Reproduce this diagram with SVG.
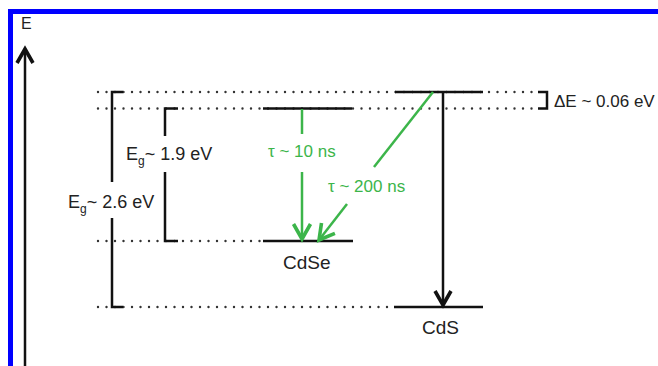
<svg xmlns="http://www.w3.org/2000/svg" width="658" height="366" viewBox="0 0 658 366">
<style>
text{font-family:"Liberation Sans",Arial,sans-serif;fill:#222}
.g{fill:#3cb54a}
.lvl{stroke:#111;stroke-width:2.5;fill:none}
.dot{stroke:#333;stroke-width:2.4;stroke-linecap:round;stroke-dasharray:0 8.5;fill:none}
.br{stroke:#111;stroke-width:2.5;fill:none}
.ga{stroke:#3cb54a;stroke-width:2.5;fill:none}
.ba{stroke:#111;stroke-width:2.5;fill:none}
</style>
<defs>
<marker id="hg" markerUnits="userSpaceOnUse" orient="auto" refX="0" refY="0" markerWidth="30" markerHeight="30" viewBox="-20 -15 30 30" overflow="visible">
<path d="M-15,-8.5 L0,0 L-15,8.5" fill="none" stroke="#3cb54a" stroke-width="3.6"/>
</marker>
<marker id="hb" markerUnits="userSpaceOnUse" orient="auto" refX="0" refY="0" markerWidth="30" markerHeight="30" viewBox="-20 -15 30 30" overflow="visible">
<path d="M-14,-8 L0,0 L-14,8" fill="none" stroke="#111" stroke-width="3.6"/>
</marker>
</defs>
<rect width="658" height="366" fill="#fff"/>
<rect x="10.5" y="11.5" width="660" height="380" fill="none" stroke="#0000ff" stroke-width="5"/>

<g id="axis">
<line x1="25" y1="366" x2="25" y2="49" class="ba" stroke-width="3" marker-end="url(#hb)"/>
<text x="21" y="29" font-size="16">E</text>
</g>

<g id="guides">
<line class="dot" x1="98" y1="92" x2="532" y2="92"/>
<line class="dot" x1="98" y1="108.5" x2="532" y2="108.5"/>
<line class="dot" x1="98" y1="241" x2="264" y2="241"/>
<line class="dot" x1="98" y1="307" x2="394" y2="307"/>
</g>

<g id="bracket-cds">
<path class="br" d="M123,92 H112 V182 M112,218 V307 H123"/>
<text x="68" y="208" font-size="18">E<tspan font-size="12" dy="5">g</tspan><tspan dy="-5">~ 2.6 eV</tspan></text>
</g>
<g id="bracket-cdse">
<path class="br" d="M178,108.5 H165 V136 M165,172 V241 H178"/>
<text x="126" y="160" font-size="18">E<tspan font-size="12" dy="5">g</tspan><tspan dy="-5">~ 1.9 eV</tspan></text>
</g>
<g id="bracket-de">
<path class="br" d="M538,92 H547 V108.5 H538"/>
<text x="554" y="107" font-size="17">ΔE ~ 0.06 eV</text>
</g>

<g id="CdSe">
<line class="lvl" x1="263" y1="108.5" x2="352" y2="108.5"/>
<line class="lvl" x1="263" y1="241" x2="353" y2="241"/>
<text x="283" y="269" font-size="19">CdSe</text>
</g>
<g id="CdS">
<line class="lvl" x1="395" y1="92" x2="483" y2="92"/>
<line class="lvl" x1="394" y1="307" x2="483" y2="307"/>
<text x="422" y="334" font-size="19">CdS</text>
</g>

<g id="connectors">
<line class="ga" x1="302" y1="109" x2="302" y2="134"/>
<line class="ga" x1="302" y1="172" x2="302" y2="239" marker-end="url(#hg)"/>
<text class="g" x="268" y="157" font-size="17">τ ~ 10 ns</text>
<line class="ga" x1="433" y1="92" x2="374" y2="167"/>
<line class="ga" x1="347" y1="204" x2="319" y2="240" marker-end="url(#hg)"/>
<text class="g" x="328" y="192" font-size="17">τ ~ 200 ns</text>
<line class="ba" x1="443" y1="92" x2="443" y2="305" marker-end="url(#hb)"/>
</g>
</svg>
